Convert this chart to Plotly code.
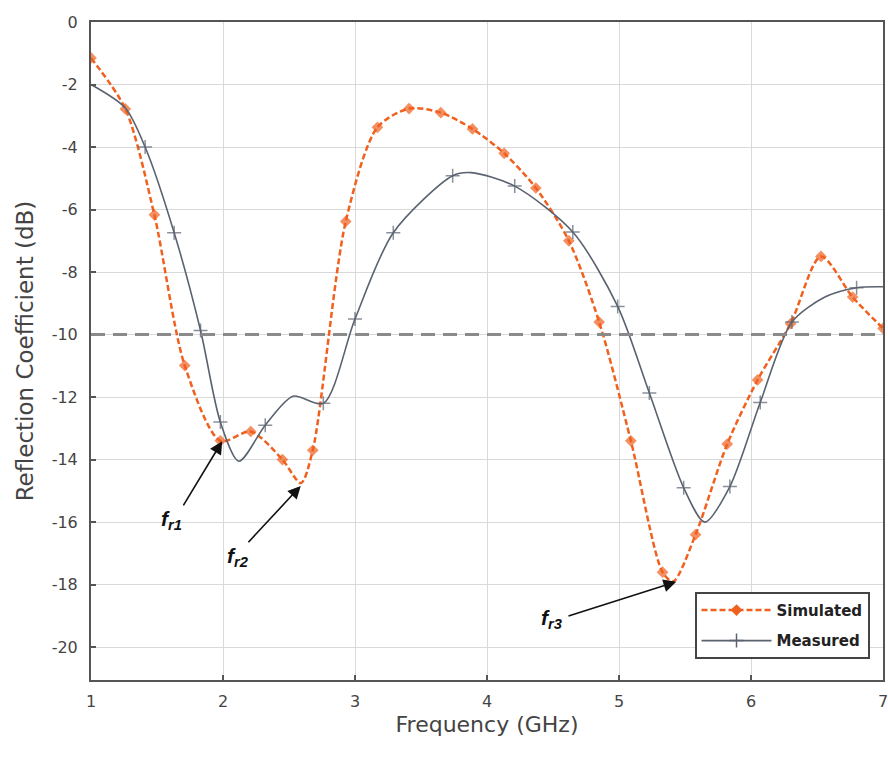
import plotly.graph_objects as go

# Simulated (orange) — frequency (GHz) and reflection coefficient (dB)
sim_freq = [1.00, 1.26, 1.48, 1.71, 1.98, 2.21, 2.45, 2.59, 2.68, 2.93, 3.17, 3.41, 3.65, 3.89,
            4.13, 4.37, 4.62, 4.85, 5.09, 5.33, 5.41, 5.58, 5.82, 6.05, 6.30, 6.53, 6.77, 7.00]
sim_s11 = [-1.15, -2.78, -6.17, -10.99, -13.40, -13.10, -14.00, -14.75, -13.70, -6.38, -3.37, -2.77, -2.90, -3.42,
           -4.20, -5.31, -7.00, -9.60, -13.40, -17.60, -17.90, -16.40, -13.50, -11.45, -9.65, -7.50, -8.80, -9.80]
sim_mark = [1, 1, 1, 1, 1, 1, 1, 0, 1, 1, 1, 1, 1, 1,
            1, 1, 1, 1, 1, 1, 0, 1, 1, 1, 1, 1, 1, 1]

# Measured (gray)
meas_freq = [1.00, 1.26, 1.41, 1.63, 1.83, 1.98, 2.12, 2.32, 2.53, 2.76, 3.00, 3.29, 3.74, 3.88,
             4.21, 4.65, 4.99, 5.23, 5.49, 5.65, 5.84, 6.07, 6.31, 6.56, 6.80, 7.00]
meas_s11 = [-2.00, -2.75, -4.00, -6.74, -9.87, -12.80, -14.05, -12.90, -11.97, -12.20, -9.50, -6.74, -4.92, -4.82,
            -5.25, -6.72, -9.10, -11.87, -14.90, -16.00, -14.86, -12.17, -9.60, -8.80, -8.50, -8.47]
meas_mark = [0, 0, 1, 1, 1, 1, 0, 1, 0, 1, 1, 1, 1, 0,
             1, 1, 1, 1, 1, 0, 1, 1, 1, 0, 1, 0]

# Axis ticks
x_ticks = [1, 2, 3, 4, 5, 6, 7]
y_ticks = [0, -2, -4, -6, -8, -10, -12, -14, -16, -18, -20]
y_tick_text = ["0", "-2", "-4", "-6", "-8", "-10", "-12", "-14", "-16", "-18", "-20"]

# Annotations: label, label position, arrow tail, arrow head
ann_labels = ["r1", "r2", "r3"]
ann_text_x = [1.61, 2.11, 4.49]
ann_text_y = [-15.93, -17.10, -19.09]
ann_tail_x = [1.693, 2.182, 4.606]
ann_tail_y = [-15.51, -16.69, -19.02]
ann_head_x = [1.994, 2.589, 5.434]
ann_head_y = [-13.41, -14.84, -17.91]

ORANGE = "#F0601E"
GRAY = "#5A6270"
FONT = "DejaVu Sans"

fig = go.Figure()

fig.add_trace(go.Scatter(
    x=sim_freq, y=sim_s11, mode="lines+markers", showlegend=False,
    line=dict(color=ORANGE, width=2.5, dash="6px,3px", shape="spline", smoothing=0.8),
    marker=dict(symbol="diamond", size=[9 if m else 0 for m in sim_mark], color=ORANGE,
                line=dict(width=0)),
))
fig.add_trace(go.Scatter(
    x=meas_freq, y=meas_s11, mode="lines+markers", showlegend=False,
    line=dict(color=GRAY, width=1.6, shape="spline", smoothing=0.8),
    marker=dict(symbol="cross-thin", size=[10 if m else 0 for m in meas_mark], color=GRAY,
                line=dict(width=1.5, color=GRAY)),
))

# legend entries
fig.add_trace(go.Scatter(
    x=[None], y=[None], mode="lines+markers", name="<b>Simulated</b>", legendgroup="a",
    line=dict(color=ORANGE, width=2.5, dash="6px,3px"),
    marker=dict(symbol="diamond", size=9, color=ORANGE),
))
fig.add_trace(go.Scatter(
    x=[None], y=[None], mode="lines+markers", name="<b>Measured</b>", legendgroup="b",
    line=dict(color=GRAY, width=1.6),
    marker=dict(symbol="cross-thin", size=10, color=GRAY, line=dict(width=1.5, color=GRAY)),
))

# -10 dB reference line
fig.add_shape(type="line", xref="x", yref="y", x0=1, x1=7, y0=-10, y1=-10,
              line=dict(color="#8a8a8a", width=3, dash="14px,8px"), layer="above")

for lab, tx, ty, ax_, ay_, hx, hy in zip(ann_labels, ann_text_x, ann_text_y,
                                         ann_tail_x, ann_tail_y, ann_head_x, ann_head_y):
    fig.add_annotation(x=hx, y=hy, ax=ax_, ay=ay_, xref="x", yref="y", axref="x", ayref="y",
                       text="", showarrow=True, arrowhead=2, arrowsize=1.6, arrowwidth=1.6,
                       arrowcolor="#111111", standoff=0)
    fig.add_annotation(x=tx, y=ty, xref="x", yref="y", showarrow=False,
                       text="<b><i>f</i></b><sub><b><i>" + lab + "</i></b></sub>",
                       font=dict(family="Liberation Sans", size=21, color="#111111"),
                       xanchor="center", yanchor="middle")

axis_common = dict(
    showline=True, linecolor="#555555", linewidth=2, mirror=True,
    showgrid=True, gridcolor="#d9d9d9", gridwidth=1,
    ticks="inside", ticklen=5, tickcolor="#555555", tickwidth=1.5,
    zeroline=False, ticklabeloverflow="allow",
    tickfont=dict(family=FONT, size=16, color="#444444"),
)

fig.update_layout(
    width=888, height=762,
    margin=dict(l=91, r=0, t=22, b=82),
    paper_bgcolor="white", plot_bgcolor="white",
    xaxis=dict(range=[1, 7], tickvals=x_ticks, ticklabelstandoff=6,
               title=dict(text="Frequency (GHz)", standoff=6,
                          font=dict(family=FONT, size=22, color="#444444")),
               **axis_common),
    yaxis=dict(range=[-21.05, 0], tickvals=y_ticks, ticktext=y_tick_text, ticklabelstandoff=8,
               title=dict(text="Reflection Coefficient (dB)", standoff=12,
                          font=dict(family=FONT, size=23, color="#444444")),
               **axis_common),
    legend=dict(x=0.762, y=0.134, xanchor="left", yanchor="top",
                bgcolor="white", bordercolor="#444444", borderwidth=2,
                font=dict(family=FONT, size=15, color="#222222"),
                itemwidth=70, tracegroupgap=8, traceorder="grouped"),
    showlegend=True,
)

fig.write_html("out.html")
